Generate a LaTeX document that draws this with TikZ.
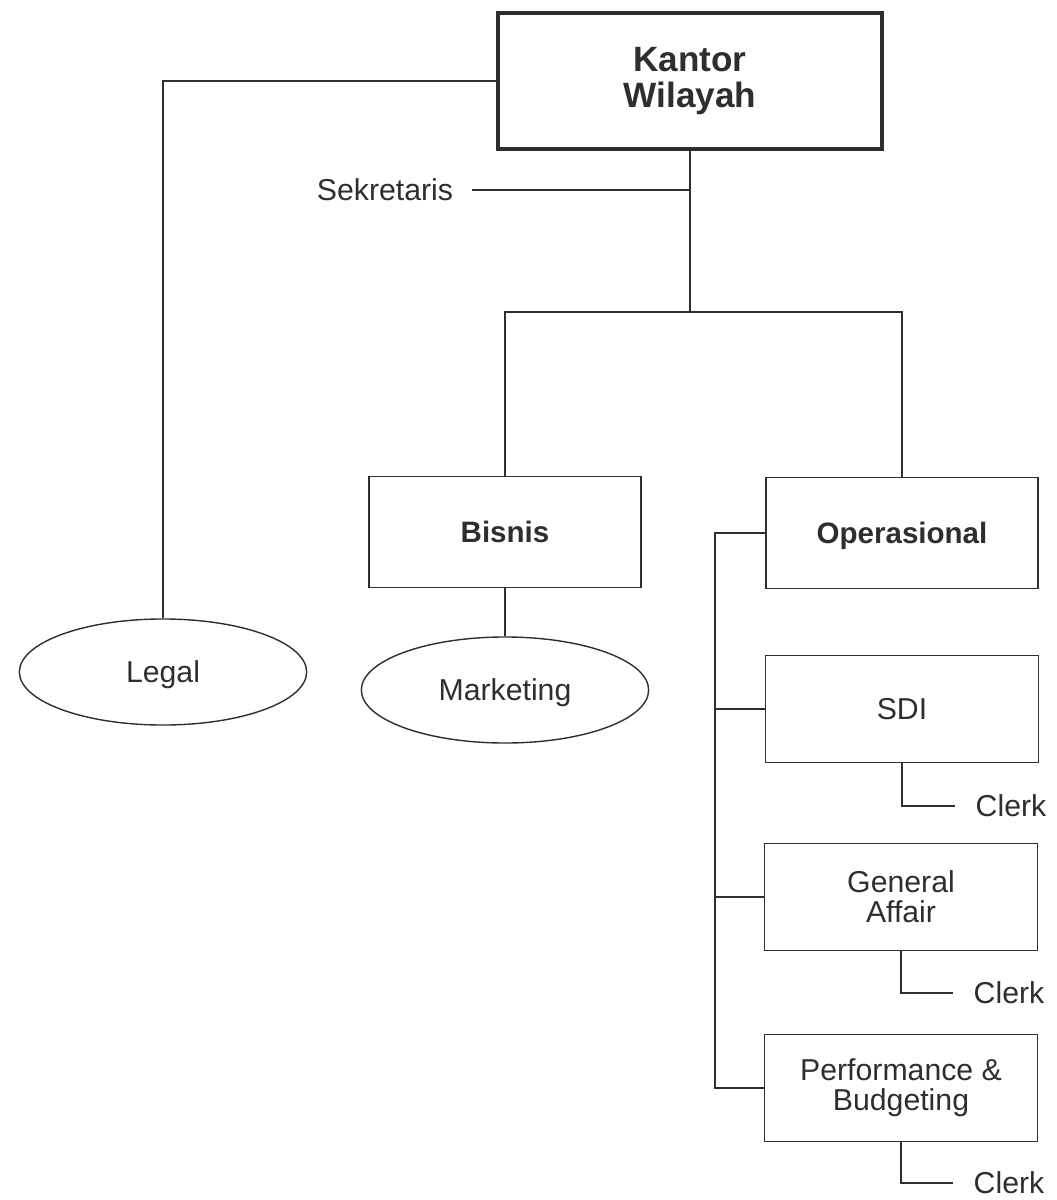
\documentclass[tikz,border=0pt]{standalone}
\usepackage{fontspec}
\setmainfont{Liberation Sans}
\usetikzlibrary{shapes.geometric}
\definecolor{ink}{HTML}{2E2E2E}
\begin{document}
\begin{tikzpicture}[x=0.025cm,y=-0.025cm,color=ink,line width=0.35mm,
  txt/.style={font=\fontsize{21.5}{21.5}\selectfont,align=center},
  head/.style={draw,line width=1mm,minimum width=9.6cm,minimum height=3.4cm,align=center,font=\fontsize{25}{25}\selectfont\bfseries},
  unit/.style={draw,minimum width=6.8cm,minimum height=2.78cm,text depth=0pt,font=\fontsize{21}{21}\selectfont\bfseries},
  box/.style={txt,draw,minimum width=6.82cm,minimum height=2.68cm},
  oval/.style={txt,draw,ellipse,inner sep=0pt,text depth=0pt,minimum width=7.18cm,minimum height=2.65cm},
  clerk/.style={txt,anchor=west,inner xsep=0.5cm}]
\useasboundingbox (0,0) rectangle (1056,1200);
\node[head] (kantor) at (690,81) {Kantor\\Wilayah};
\node[txt,outer xsep=10pt] (sekretaris) at (385,190) {Sekretaris};
\node[unit] (bisnis) at (505,532) {Bisnis};
\node[unit] (operasional) at (902,533) {Operasional};
\node[oval] (legal) at (163,672) {Legal};
\node[oval] (marketing) at (505,690) {Marketing};
\node[box] (sdi) at (902,709) {SDI};
\node[box] (general) at (901,897) {General\\Affair};
\node[box] (budget) at (901,1088) {Performance \&\\Budgeting};
\node[clerk] (clerkA) at (955,806) {Clerk};
\node[clerk] (clerkB) at (953,993) {Clerk};
\node[clerk] (clerkC) at (953,1183) {Clerk};
\coordinate (bus) at (690,312);
\coordinate (opjoin) at (715,533);
\draw (kantor.west) -| (legal.north);
\draw (kantor.south) -- (bus);
\draw (sekretaris.east) -- (kantor.south |- sekretaris.east);
\draw (bisnis.north) |- (bus) -| (operasional.north);
\draw (bisnis.south) -- (marketing.north);
\draw (operasional.west) -- (opjoin) |- (budget.west);
\draw (opjoin) |- (sdi.west);
\draw (opjoin) |- (general.west);
\draw (sdi.south) |- (clerkA.west);
\draw (general.south) |- (clerkB.west);
\draw (budget.south) |- (clerkC.west);
\end{tikzpicture}
\end{document}
